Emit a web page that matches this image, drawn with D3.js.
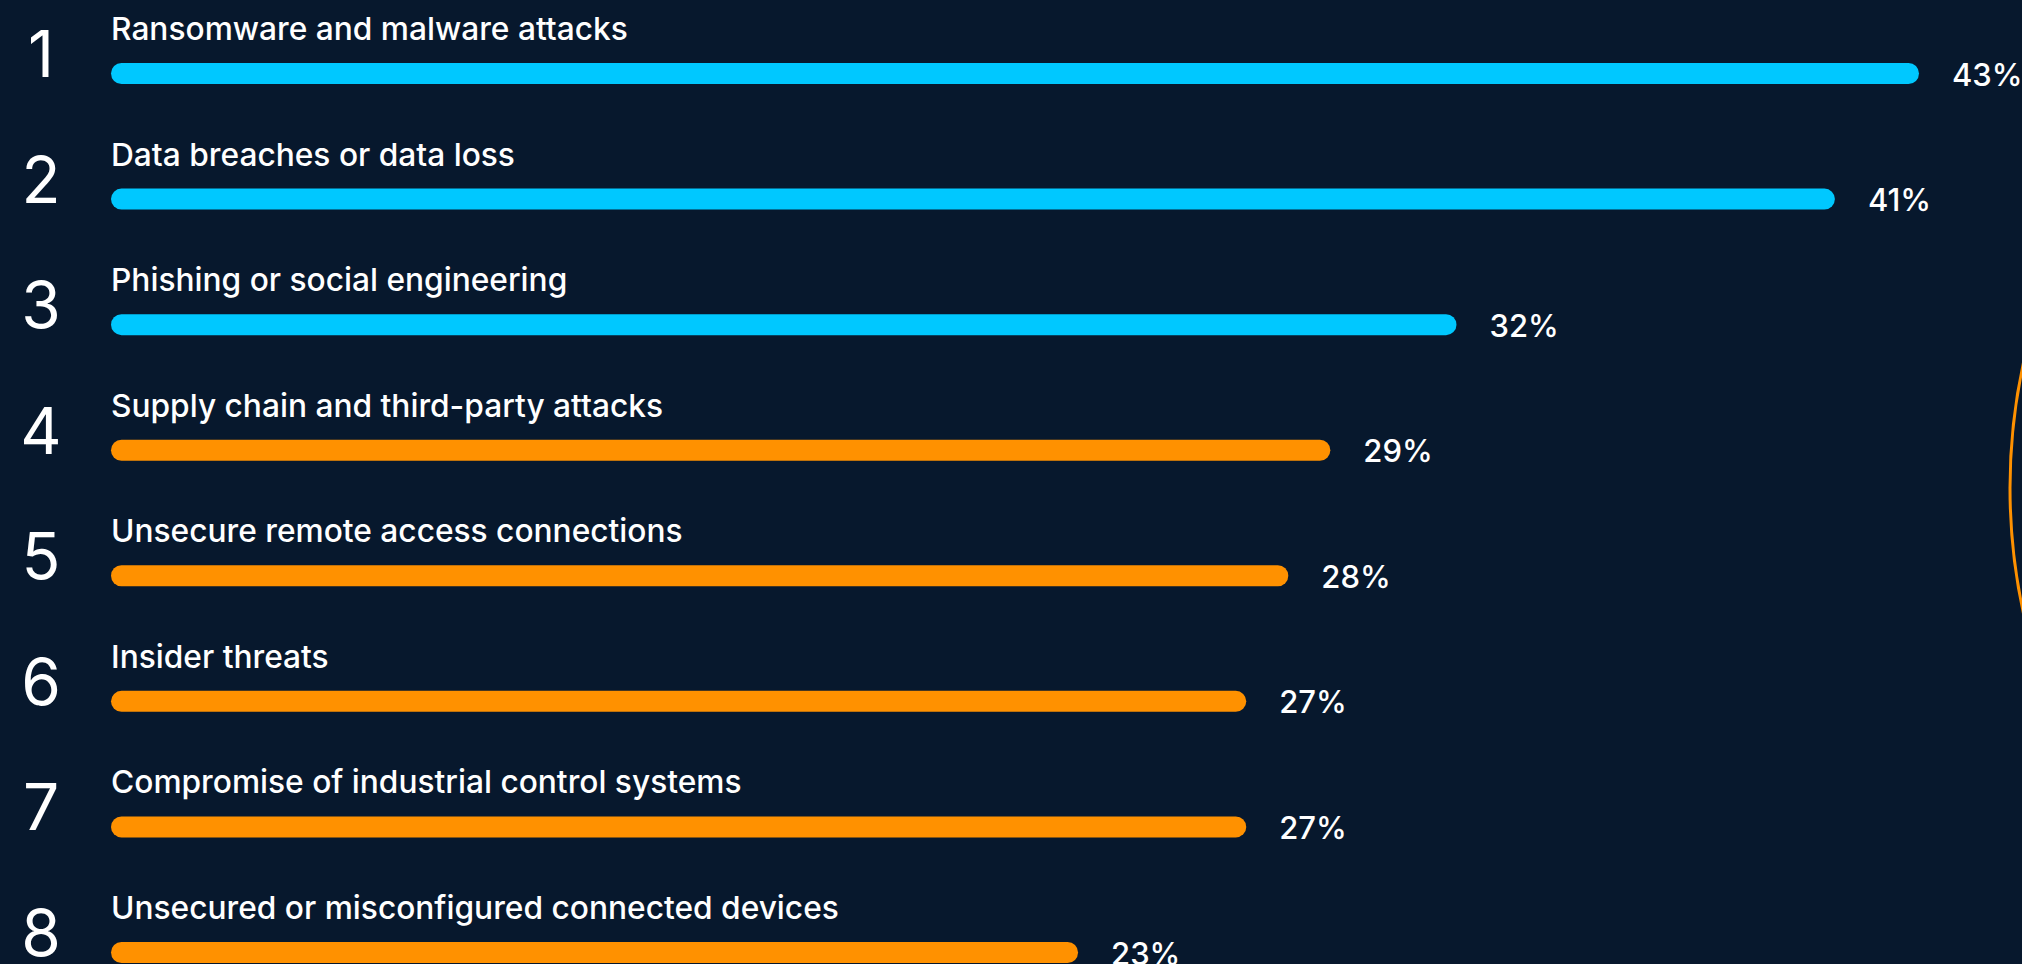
<!DOCTYPE html>
<html>
<head>
<meta charset="utf-8">
<script src="https://cdn.jsdelivr.net/npm/d3@7"></script>
<style>
  html, body { margin: 0; padding: 0; background: #07182d; overflow: hidden; }
  svg { display: block; }
</style>
</head>
<body>
<svg id="chart" width="2022" height="964"></svg>
<script>
const ranks = [1, 2, 3, 4, 5, 6, 7, 8];
const categories = [
  "Ransomware and malware attacks",
  "Data breaches or data loss",
  "Phishing or social engineering",
  "Supply chain and third-party attacks",
  "Unsecure remote access connections",
  "Insider threats",
  "Compromise of industrial control systems",
  "Unsecured or misconfigured connected devices"
];
const values = [43, 41, 32, 29, 28, 27, 27, 23];
const groups = ["top", "top", "top", "other", "other", "other", "other", "other"];

const W = 2022, H = 964;
const svg = d3.select("#chart");
svg.append("rect").attr("width", W).attr("height", H).attr("fill", "#07182d");

// decorative arc at right edge
svg.append("circle")
  .attr("cx", 2596).attr("cy", 488).attr("r", 586)
  .attr("fill", "none").attr("stroke", "#ff9100").attr("stroke-width", 3);

const x = d3.scaleLinear().domain([0, 43]).range([111, 1919]);
const y = d3.scalePoint().domain(ranks).range([73.5, 952.5]);
const color = d3.scaleOrdinal().domain(["top", "other"]).range(["#00c8ff", "#ff9100"]);

const data = ranks.map((r, i) => ({ rank: r, label: categories[i], value: values[i], group: groups[i] }));
const barH = 21;

const row = svg.selectAll("g.row").data(data).join("g").attr("class", "row");

row.append("rect")
  .attr("x", x(0))
  .attr("y", d => y(d.rank) - barH / 2)
  .attr("width", d => x(d.value) - x(0))
  .attr("height", barH)
  .attr("rx", barH / 2)
  .attr("fill", d => color(d.group));

row.append("text")
  .attr("x", x(0))
  .attr("y", d => y(d.rank) - 33.5)
  .attr("fill", "#ffffff")
  .attr("font-family", "Inter, 'Open Sans', sans-serif")
  .attr("font-size", 31.7)
  .attr("font-weight", 500)
  .text(d => d.label);

row.append("text")
  .attr("x", d => x(d.value) + 33)
  .attr("y", d => y(d.rank) + 12)
  .attr("fill", "#ffffff")
  .attr("font-family", "Inter, 'Open Sans', sans-serif")
  .attr("font-size", 31)
  .attr("font-weight", 500)
  .text(d => d.value + "%");

row.append("text")
  .attr("x", 41)
  .attr("y", d => y(d.rank) + 3.5)
  .attr("text-anchor", "middle")
  .attr("fill", "#ffffff")
  .attr("font-family", "Inter, Lato, sans-serif")
  .attr("font-size", 64)
  .attr("font-weight", 400)
  .text(d => d.rank);
</script>
</body>
</html>
